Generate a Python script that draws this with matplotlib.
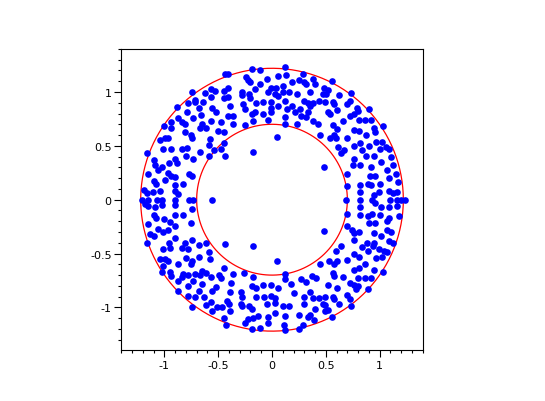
import numpy as np
import matplotlib
matplotlib.use("Agg")
import matplotlib.pyplot as plt
from matplotlib.ticker import MultipleLocator

# radii of the two boundary circles
inner_r = 0.70
outer_r = 1.22

# points, grouped by region
top_left_x = [-0.44, -0.74, -0.62, -0.57, -0.53, -0.45, -0.72, -0.64, -0.57, -0.78, -0.72, -0.88, -0.68, -0.56,
              -0.52, -0.45, -0.79, -0.66, -0.87, -0.84, -0.81, -0.73, -0.94, -0.57, -0.47, -0.65, -0.67, -0.61,
              -1.00, -0.94, -0.81, -0.75, -0.74, -0.99, -1.04, -0.97, -0.58, -0.50, -0.45, -0.59, -1.01, -0.94,
              -0.84, -0.79, -0.67, -0.54, -0.47, -0.45, -1.16]
top_left_y = [1.17, 1.00, 0.99, 1.03, 1.01, 1.01, 0.93, 0.91, 0.95, 0.90, 0.91, 0.86, 0.85, 0.85,
              0.81, 0.94, 0.81, 0.79, 0.76, 0.72, 0.70, 0.76, 0.72, 0.73, 0.72, 0.70, 0.67, 0.67,
              0.68, 0.67, 0.63, 0.60, 0.57, 0.57, 0.55, 0.57, 0.56, 0.64, 0.63, 0.51, 0.47, 0.47,
              0.47, 0.48, 0.44, 0.46, 0.47, 0.53, 0.43]

top_mid_x = [-0.41, -0.19, -0.11, 0.12, 0.29, -0.24, -0.22, -0.20, -0.11, -0.05, -0.01, 0.04, 0.06, 0.13,
             0.10, 0.19, 0.25, 0.30, 0.38, 0.40, 0.32, -0.41, -0.41, -0.28, -0.28, -0.16, -0.21, -0.20,
             -0.04, 0.03, 0.10, 0.16, 0.23, 0.35, 0.30, 0.33, 0.38, 0.35, -0.15, -0.08, -0.01, 0.06,
             0.12, -0.39, -0.27, -0.25, -0.01, 0.06, 0.14, 0.19, 0.26, -0.16, -0.19, -0.08, -0.01, 0.12,
             0.21, 0.27, 0.33, 0.32, -0.41, -0.36, -0.18, -0.25, -0.04, 0.12, 0.23, 0.38, 0.43, -0.36]
top_mid_y = [1.17, 1.21, 1.20, 1.23, 1.17, 1.14, 1.11, 1.09, 1.07, 1.12, 1.04, 1.04, 1.15, 1.16,
             1.06, 1.09, 1.11, 1.09, 1.12, 1.07, 1.07, 1.04, 0.95, 1.00, 0.97, 1.03, 0.98, 0.94,
             1.00, 0.98, 1.00, 1.00, 0.98, 1.00, 0.92, 0.90, 0.90, 0.87, 0.90, 0.91, 0.91, 0.96,
             0.92, 0.87, 0.89, 0.84, 0.85, 0.87, 0.84, 0.87, 0.84, 0.81, 0.80, 0.80, 0.81, 0.77,
             0.81, 0.78, 0.81, 0.77, 0.78, 0.78, 0.73, 0.69, 0.74, 0.70, 0.70, 0.73, 0.70, 0.70]

top_right_x = [0.56, 0.48, 0.52, 0.47, 0.50, 0.62, 0.73, 0.44, 0.49, 0.57, 0.58, 0.72, 0.70, 0.79,
               0.80, 0.90, 0.52, 0.54, 0.60, 0.72, 0.76, 0.81, 0.86, 0.92, 0.66, 0.57, 0.60, 0.76,
               0.81, 0.95, 0.96, 1.03, 0.45, 0.58, 0.59, 0.54, 0.70, 0.82, 0.87, 0.97, 1.02, 1.06,
               1.09, 1.00, 0.90, 0.84, 0.76, 0.61, 0.67]
top_right_y = [1.10, 1.04, 1.02, 0.98, 0.98, 0.97, 0.99, 0.92, 0.91, 0.91, 0.89, 0.92, 0.89, 0.85,
               0.82, 0.84, 0.81, 0.80, 0.83, 0.78, 0.80, 0.74, 0.74, 0.74, 0.73, 0.69, 0.66, 0.65,
               0.64, 0.67, 0.63, 0.68, 0.60, 0.60, 0.57, 0.57, 0.57, 0.53, 0.60, 0.54, 0.54, 0.49,
               0.47, 0.47, 0.50, 0.46, 0.50, 0.49, 0.46]

mid_left_x = [-1.10, -1.09, -1.15, -1.06, -1.02, -0.96, -0.90, -0.88, -0.80, -0.73, -0.59, -0.97, -0.94, -0.90,
              -0.77, -0.74, -1.10, -1.08, -0.99, -0.90, -0.83, -1.19, -1.16, -1.11, -1.04, -0.90, -0.87, -1.21,
              -1.15, -1.07, -1.02, -0.90, -0.77, -0.73, -1.18, -1.15, -1.09, -1.02, -0.90, -0.74, -0.90, -0.83,
              -1.10, -1.08, -1.00, -1.15, -0.95, -0.90, -0.75, -1.06, -1.01, -0.97, -1.13, -1.10, -0.90, -0.96,
              -1.16, -0.81, -0.74, -0.68, -0.61]
mid_left_y = [0.37, 0.32, 0.24, 0.28, 0.30, 0.34, 0.38, 0.34, 0.41, 0.38, 0.41, 0.25, 0.22, 0.21,
              0.24, 0.22, 0.17, 0.15, 0.18, 0.14, 0.15, 0.09, 0.06, 0.07, 0.08, 0.08, 0.05, 0.00,
              0.00, 0.00, 0.00, 0.00, 0.00, 0.00, -0.04, -0.06, -0.07, -0.05, -0.05, -0.09, -0.14, -0.14,
              -0.14, -0.17, -0.18, -0.23, -0.21, -0.24, -0.22, -0.27, -0.30, -0.28, -0.32, -0.34, -0.36, -0.40,
              -0.40, -0.40, -0.37, -0.42, -0.40]

mid_right_x = [0.64, 0.76, 0.75, 0.82, 0.87, 0.95, 1.01, 0.92, 1.07, 1.11, 1.12, 0.70, 0.91, 0.96,
               1.09, 1.15, 0.82, 0.89, 0.92, 1.00, 1.17, 0.70, 1.09, 1.12, 0.99, 0.95, 0.82, 1.16,
               0.69, 0.82, 0.93, 1.10, 1.16, 1.20, 1.24, 0.96, 1.01, 1.09, 1.16, 0.82, 0.70, 0.82,
               0.89, 0.93, 1.00, 1.09, 1.18, 0.90, 0.96, 1.07, 0.70, 0.74, 0.76, 0.81, 0.95, 1.01,
               1.07, 1.11, 1.09, 0.76, 0.88, 0.95, 0.64, 1.12]
mid_right_y = [0.43, 0.38, 0.32, 0.32, 0.41, 0.41, 0.35, 0.30, 0.28, 0.40, 0.32, 0.24, 0.22, 0.22,
               0.20, 0.24, 0.14, 0.15, 0.14, 0.15, 0.16, 0.13, 0.08, 0.06, 0.07, 0.04, 0.07, 0.07,
               0.00, 0.00, 0.00, 0.00, 0.00, 0.00, 0.00, -0.03, -0.07, -0.07, -0.06, -0.07, -0.13, -0.14,
               -0.15, -0.13, -0.14, -0.17, -0.15, -0.22, -0.22, -0.20, -0.24, -0.28, -0.31, -0.30, -0.31, -0.34,
               -0.28, -0.30, -0.38, -0.37, -0.40, -0.40, -0.43, -0.40]

bottom_left_x = [-1.01, -0.95, -0.84, -0.78, -0.59, -1.04, -0.99, -0.97, -0.80, -0.74, -0.75, -0.68, -0.58, -1.01,
                 -0.87, -1.02, -0.95, -0.94, -0.83, -0.84, -0.87, -0.78, -0.72, -0.65, -0.61, -0.67, -0.57, -0.73,
                 -0.65, -0.49, -0.47, -0.45, -0.78, -0.87, -0.68, -0.56, -0.52, -0.78, -0.72, -0.63, -0.61, -0.57,
                 -0.51, -0.74, -0.56, -0.46, -0.45, -0.43]
bottom_left_y = [-0.46, -0.45, -0.45, -0.46, -0.49, -0.55, -0.55, -0.57, -0.54, -0.57, -0.60, -0.53, -0.55, -0.62,
                 -0.60, -0.67, -0.67, -0.71, -0.69, -0.72, -0.75, -0.70, -0.69, -0.66, -0.68, -0.70, -0.72, -0.75,
                 -0.78, -0.70, -0.73, -0.63, -0.80, -0.85, -0.85, -0.85, -0.81, -0.89, -0.90, -0.90, -0.98, -0.95,
                 -1.00, -1.00, -1.03, -1.00, -1.10, -1.16]

bottom_mid_x = [-0.36, -0.26, -0.18, 0.12, 0.12, 0.27, 0.37, 0.41, -0.38, -0.19, -0.15, -0.08, -0.01, 0.06,
                0.18, 0.32, -0.39, -0.29, -0.28, -0.15, -0.07, -0.01, 0.03, 0.20, 0.30, 0.35, 0.38, -0.42,
                -0.40, -0.29, -0.28, -0.21, -0.19, -0.05, 0.03, 0.10, 0.16, 0.30, 0.40, -0.39, -0.13, -0.04,
                0.03, 0.12, 0.25, 0.35, 0.33, -0.25, -0.22, -0.18, -0.04, 0.11, 0.29, 0.39, -0.11, -0.19,
                0.12, 0.25]
bottom_mid_y = [-0.69, -0.68, -0.72, -0.69, -0.74, -0.74, -0.71, -0.73, -0.77, -0.80, -0.82, -0.79, -0.79, -0.82,
                -0.78, -0.76, -0.86, -0.86, -0.90, -0.90, -0.90, -0.89, -0.91, -0.87, -0.90, -0.86, -0.91, -0.94,
                -0.97, -0.97, -0.99, -0.99, -1.01, -0.97, -0.96, -0.99, -0.99, -0.97, -1.01, -1.03, -1.08, -1.09,
                -1.05, -1.08, -1.07, -1.07, -1.09, -1.14, -1.11, -1.10, -1.14, -1.16, -1.16, -1.12, -1.19, -1.20,
                -1.21, -1.20]

bottom_right_x = [0.59, 0.76, 0.84, 0.89, 0.94, 0.99, 1.04, 1.07, 0.70, 0.81, 0.97, 1.02, 0.53, 0.58,
                  0.60, 0.45, 0.76, 0.81, 0.86, 0.95, 1.03, 0.57, 0.58, 0.66, 0.80, 0.86, 0.92, 0.72,
                  0.76, 0.80, 0.78, 0.89, 0.52, 0.60, 0.44, 0.49, 0.57, 0.58, 0.70, 0.72, 0.47, 0.49,
                  0.52, 0.49, 0.62, 0.73, 0.56]
bottom_right_y = [-0.48, -0.50, -0.44, -0.48, -0.43, -0.46, -0.48, -0.49, -0.56, -0.53, -0.54, -0.53, -0.57, -0.60,
                  -0.57, -0.60, -0.65, -0.63, -0.60, -0.65, -0.67, -0.68, -0.71, -0.72, -0.73, -0.73, -0.73, -0.77,
                  -0.79, -0.80, -0.83, -0.83, -0.79, -0.82, -0.91, -0.90, -0.90, -0.92, -0.88, -0.92, -0.97, -0.98,
                  -1.02, -1.03, -0.97, -0.99, -1.09]

# the few points that fall inside the inner circle
inner_x = [-0.44, -0.18, 0.05, -0.56, 0.48, 0.48, -0.44, -0.18, 0.05]
inner_y = [0.41, 0.44, 0.58, 0.00, 0.30, -0.29, -0.41, -0.43, -0.57]

xs = (top_left_x + top_mid_x + top_right_x + mid_left_x + mid_right_x
      + bottom_left_x + bottom_mid_x + bottom_right_x + inner_x)
ys = (top_left_y + top_mid_y + top_right_y + mid_left_y + mid_right_y
      + bottom_left_y + bottom_mid_y + bottom_right_y + inner_y)

plt.rcParams['axes.unicode_minus'] = False
plt.rcParams['font.family'] = 'DejaVu Sans'

fig = plt.figure(figsize=(5.45, 4.02), dpi=100)
ax = fig.add_axes([0.2226, 0.1269, 0.553, 0.749])

t = np.linspace(0, 2 * np.pi, 400)
ax.plot(inner_r * np.cos(t), inner_r * np.sin(t), color='red', lw=0.9, zorder=1)
ax.plot(outer_r * np.cos(t), outer_r * np.sin(t), color='red', lw=0.9, zorder=1)
ax.plot(xs, ys, 'o', color='blue', markersize=4.8, markeredgewidth=0, zorder=2)

ax.set_xlim(-1.4, 1.4)
ax.set_ylim(-1.395, 1.4)

ax.xaxis.set_major_locator(MultipleLocator(0.5))
ax.yaxis.set_major_locator(MultipleLocator(0.5))
ax.xaxis.set_minor_locator(MultipleLocator(0.1))
ax.yaxis.set_minor_locator(MultipleLocator(0.1))
ax.xaxis.set_major_formatter(lambda v, p: f"{v:g}")
ax.yaxis.set_major_formatter(lambda v, p: f"{v:g}")
ax.tick_params(which='major', direction='out', length=5, width=0.8, labelsize=8, pad=2)
ax.tick_params(which='minor', direction='out', length=2.5, width=0.8)
for s in ax.spines.values():
    s.set_linewidth(0.8)

fig.savefig('out.png', dpi=100)
